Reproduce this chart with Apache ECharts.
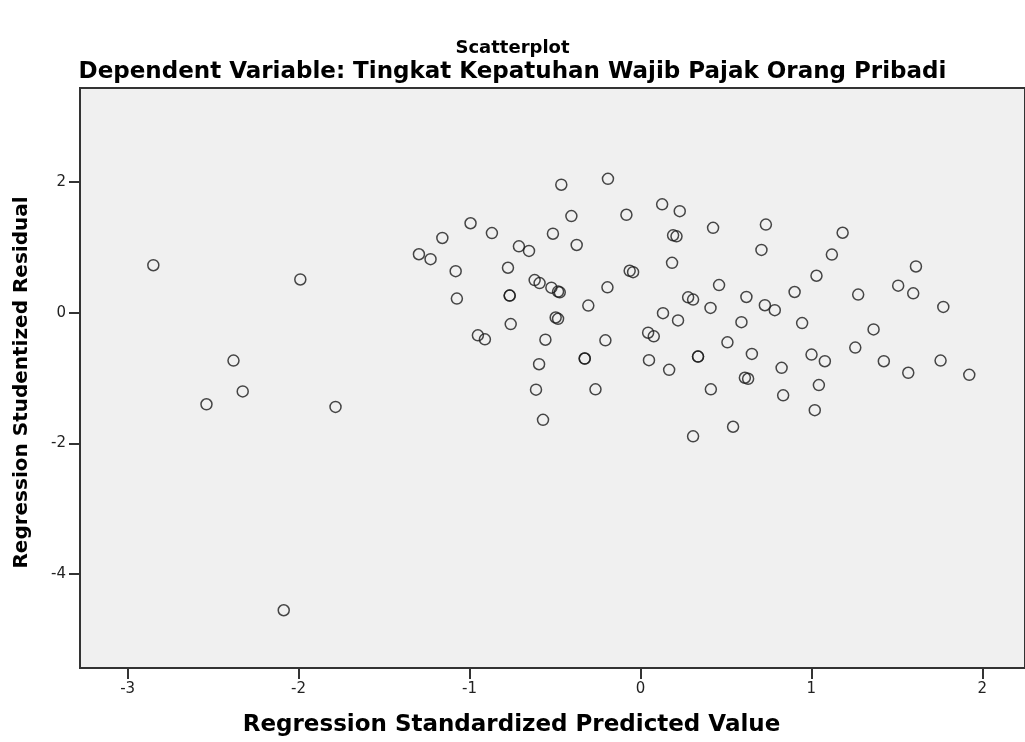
<!DOCTYPE html>
<html>
<head>
<meta charset="utf-8">
<title>Scatterplot</title>
<script src="https://cdn.jsdelivr.net/npm/echarts@6/dist/echarts.min.js"></script>
<style>
  html, body { margin: 0; padding: 0; background: #ffffff; }
  #chart { width: 1025px; height: 742px; }
</style>
</head>
<body>
<div id="chart"></div>
<script>
// Regression Standardized Predicted Value (x)
const predicted = [
  -2.85, -1.99, -2.381, -2.327, -2.539, -1.784, -2.087,
  -0.463, -0.19, 0.127, 0.23, -0.404, -0.082, -0.994, -0.869, -1.159, -0.512,
  0.191, 0.211, -0.711, -0.652, -0.373, -1.296, -1.228, -1.081, -0.775, 0.185,
  -0.063, -0.043, -0.619, -0.59, -0.521, -0.482, -0.472, -0.193, -1.074, -0.765,
  -0.765, -0.305, 0.132, 0.22, -0.496, -0.482, -0.759, -0.951, -0.91, -0.556,
  -0.205, 0.045, 0.078, -0.326, -0.326, 0.05, 0.168, -0.593, -0.611, -0.263, -0.57,
  0.425, 0.734, 1.183, 1.12, 0.708, 1.612, 1.03, 0.46, 1.508, 1.596, 0.902, 1.274,
  0.279, 0.308, 0.62, 0.728, 0.786, 1.772, 0.41, 0.591, 0.946, 1.364, 0.509, 1.257,
  0.337, 0.337, 0.652, 1.001, 1.079, 1.424, 1.756, 0.826, 1.567, 1.924, 0.611, 0.63,
  1.044, 0.412, 0.835, 1.02, 0.542, 0.308
];
// Regression Studentized Residual (y)
const residual = [
  0.728, 0.51, -0.731, -1.203, -1.40, -1.44, -4.552,
  1.96, 2.05, 1.66, 1.555, 1.48, 1.50, 1.37, 1.22, 1.145, 1.21,
  1.185, 1.17, 1.017, 0.947, 1.038, 0.896, 0.82, 0.637, 0.689, 0.765,
  0.643, 0.622, 0.5, 0.455, 0.385, 0.324, 0.313, 0.389, 0.217, 0.263,
  0.263, 0.11, -0.006, -0.117, -0.072, -0.092, -0.173, -0.345, -0.406, -0.412,
  -0.421, -0.305, -0.36, -0.70, -0.70, -0.725, -0.873, -0.787, -1.177, -1.172, -1.638,
  1.30, 1.35, 1.225, 0.891, 0.962, 0.709, 0.567, 0.424, 0.415, 0.298, 0.318, 0.278,
  0.237, 0.202, 0.242, 0.116, 0.04, 0.09, 0.075, -0.143, -0.158, -0.254, -0.452, -0.533,
  -0.67, -0.67, -0.63, -0.64, -0.741, -0.741, -0.731, -0.843, -0.918, -0.949, -0.994, -1.01,
  -1.106, -1.172, -1.263, -1.49, -1.744, -1.891
];
const xTicks = [-3, -2, -1, 0, 1, 2];
const yTicks = [-4, -2, 0, 2];

const points = predicted.map((v, i) => [v, residual[i]]);

const chart = echarts.init(document.getElementById('chart'));
chart.setOption({
  backgroundColor: '#ffffff',
  animation: false,
  title: [
    {
      text: 'Scatterplot',
      left: 'center',
      top: 34,
      textStyle: { fontFamily: 'DejaVu Sans', fontSize: 18, fontWeight: 'bold', color: '#000' }
    },
    {
      text: 'Dependent Variable: Tingkat Kepatuhan Wajib Pajak Orang Pribadi',
      left: 'center',
      top: 56,
      textStyle: { fontFamily: 'DejaVu Sans', fontSize: 23, fontWeight: 'bold', color: '#000' }
    }
  ],
  grid: {
    left: 80,
    top: 88,
    right: 0,
    bottom: 70,
    show: true,
    backgroundColor: '#f0f0f0',
    borderColor: '#333',
    borderWidth: 2
  },
  xAxis: {
    type: 'value',
    min: -3.279,
    max: 2.25,
    name: 'Regression Standardized Predicted Value',
    nameLocation: 'middle',
    nameGap: 46,
    nameTextStyle: {
      fontFamily: 'DejaVu Sans', fontSize: 23, fontWeight: 'bold', color: '#000',
      padding: [0, 82, 0, 0]
    },
    splitLine: { show: false },
    axisLine: { show: true, onZero: false, lineStyle: { color: '#333', width: 2 } },
    axisTick: { show: true, length: 11, customValues: xTicks, lineStyle: { color: '#333', width: 2 } },
    axisLabel: { customValues: xTicks, margin: 14, fontFamily: 'DejaVu Sans', fontSize: 15, color: '#222' }
  },
  yAxis: {
    type: 'value',
    min: -5.436,
    max: 3.44,
    name: 'Regression Studentized Residual',
    nameLocation: 'middle',
    nameGap: 48,
    nameTextStyle: {
      fontFamily: 'DejaVu Sans', fontSize: 20, fontWeight: 'bold', color: '#000',
      padding: [0, 9, 0, 0]
    },
    splitLine: { show: false },
    axisLine: { show: true, onZero: false, lineStyle: { color: '#333', width: 2 } },
    axisTick: { show: true, length: 11, customValues: yTicks, lineStyle: { color: '#333', width: 2 } },
    axisLabel: { customValues: yTicks, margin: 14, fontFamily: 'DejaVu Sans', fontSize: 15, color: '#222' }
  },
  series: [{
    type: 'scatter',
    data: points,
    symbol: 'circle',
    symbolSize: 11,
    itemStyle: { color: 'rgba(0,0,0,0)', borderColor: '#1a1a1a', borderWidth: 1.5 }
  }]
});
</script>
</body>
</html>
